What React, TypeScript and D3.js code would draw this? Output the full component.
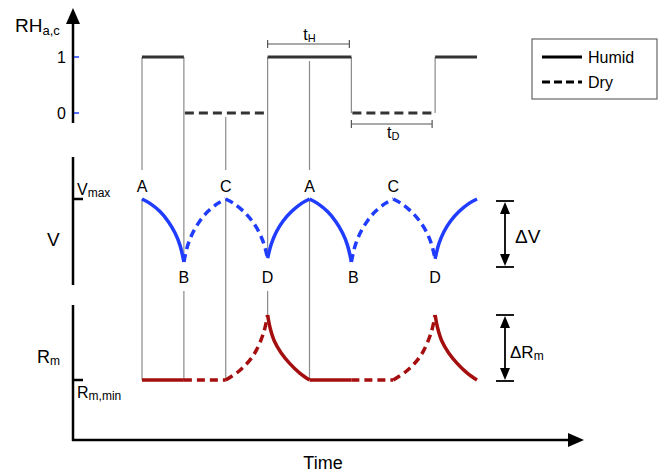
import * as d3 from 'd3';

// phase of each unit time interval (A-B, B-C, C-D, D-A, ...)
const phases = ['Humid', 'Dry', 'Dry', 'Humid', 'Humid', 'Dry', 'Dry', 'Humid'];
const pointLabels = ['A', 'B', 'C', 'D', 'A', 'B', 'C', 'D'];

// relative humidity steps
const rhTimes = [0, 1, 3, 5, 7, 8];
const rhValues = [1, 0, 1, 0, 1];

// V (normalised 0 = Vmin, 1 = Vmax)
const vTimes = [
  0, 0.19, 0.43, 0.63, 0.79, 0.91, 1,
  1.09, 1.21, 1.37, 1.57, 1.81, 2,
  2.19, 2.43, 2.63, 2.79, 2.91, 3,
  3.09, 3.21, 3.37, 3.57, 3.81, 4,
  4.19, 4.43, 4.63, 4.79, 4.91, 5,
  5.09, 5.21, 5.37, 5.57, 5.81, 6,
  6.19, 6.43, 6.63, 6.79, 6.91, 7,
  7.09, 7.21, 7.37, 7.57, 7.81, 8,
];
const vValues = [
  1, 0.93, 0.8, 0.64, 0.46, 0.26, 0,
  0.26, 0.46, 0.64, 0.8, 0.93, 1,
  0.93, 0.8, 0.65, 0.48, 0.29, 0.06,
  0.29, 0.48, 0.65, 0.8, 0.93, 1,
  0.93, 0.8, 0.64, 0.46, 0.26, 0,
  0.26, 0.46, 0.64, 0.8, 0.93, 1,
  0.93, 0.8, 0.65, 0.48, 0.29, 0.05,
  0.29, 0.48, 0.65, 0.8, 0.93, 1,
];

// Rm (normalised 0 = Rm,min, 1 = peak)
const rmTimes = [
  0, 1, 2, 2.34, 2.66, 2.9, 3,
  3.06, 3.16, 3.32, 3.52, 3.76, 4,
  5, 6, 6.34, 6.66, 6.9, 7,
  7.06, 7.16, 7.32, 7.52, 7.76, 8,
];
const rmValues = [
  0, 0, 0, 0.15, 0.38, 0.72, 1,
  0.8, 0.6, 0.42, 0.26, 0.11, 0,
  0, 0, 0.15, 0.38, 0.72, 1,
  0.8, 0.6, 0.42, 0.26, 0.11, 0,
];

const FONT = 'Liberation Sans, Arial, Helvetica, sans-serif';
const BLUE = '#1f3cff';
const RED = '#a50e0e';
const GRAY = '#8a8a8a';

export default function App() {
  const x = d3.scaleLinear().domain([0, 8]).range([142, 477]);
  const yRH = d3.scaleLinear().domain([0, 1]).range([113, 57]);
  const yV = d3.scaleLinear().domain([0, 1]).range([262, 199]);
  const yR = d3.scaleLinear().domain([0, 1]).range([380, 315]);

  const vPts: [number, number][] = vTimes.map((t, i) => [t, vValues[i]]);
  const rPts: [number, number][] = rmTimes.map((t, i) => [t, rmValues[i]]);

  const vLine = d3
    .line<[number, number]>()
    .x((d) => x(d[0]))
    .y((d) => yV(d[1]))
    .curve(d3.curveCatmullRom.alpha(0.5));
  const rLine = d3
    .line<[number, number]>()
    .x((d) => x(d[0]))
    .y((d) => yR(d[1]))
    .curve(d3.curveCatmullRom.alpha(0.5));

  const seg = (pts: [number, number][], i: number) =>
    pts.filter((p) => p[0] >= i && p[0] <= i + 1);

  const vAt = (t: number) => vValues[vTimes.indexOf(t)];
  const rAt = (t: number) => rmValues[rmTimes.indexOf(t)];
  const rhAt = (t: number) => {
    const k = d3.bisectRight(rhTimes, t) - 1;
    return rhValues[Math.min(k, rhValues.length - 1)];
  };

  // vertical guide lines for the first cycle
  const guides = d3.range(0, 5).map((t) => {
    const isEdge = rhTimes.includes(t);
    const top = isEdge ? yRH(1) : yRH(rhAt(t)) + 4;
    const above = pointLabels[t] === 'A' || pointLabels[t] === 'C';
    const yp = yV(vAt(t));
    const bottom = yR(rAt(t));
    return above
      ? [
          [top, yp - 29],
          [yp, bottom],
        ]
      : [
          [top, yp],
          [yV(0) + 29, bottom],
        ];
  });

  const dash = (p: string) => (p === 'Dry' ? '8,5' : undefined);

  return (
    <svg
      width={659}
      height={473}
      style={{ position: 'absolute', left: 0, top: 0, background: '#fff' }}
      fontFamily={FONT}
    >
      {/* guide lines */}
      <g stroke={GRAY} strokeWidth={1.2}>
        {guides.map((g, i) =>
          g.map((s, j) => (
            <line key={`${i}-${j}`} x1={x(i)} x2={x(i)} y1={s[0]} y2={s[1]} />
          )),
        )}
        {[5, 7].map((t) => (
          <line key={t} x1={x(t)} x2={x(t)} y1={yRH(1)} y2={yRH(0)} />
        ))}
      </g>

      {/* RH steps */}
      <g stroke="#333" strokeWidth={3}>
        {rhValues.map((v, i) => (
          <line
            key={i}
            x1={x(rhTimes[i]) + (i > 0 && v === 0 ? 1 : 0)}
            x2={x(rhTimes[i + 1]) - (v === 0 ? 3 : 0)}
            y1={yRH(v)}
            y2={yRH(v)}
            strokeDasharray={v === 0 ? '9,5' : undefined}
          />
        ))}
      </g>

      {/* t_H and t_D brackets */}
      <g stroke="#555" strokeWidth={1.2}>
        <line x1={x(3)} x2={x(5) - 2} y1={44} y2={44} />
        <line x1={x(3)} x2={x(3)} y1={40} y2={48} />
        <line x1={x(5) - 2} x2={x(5) - 2} y1={40} y2={48} />
        <line x1={x(5)} x2={x(7) - 3} y1={124} y2={124} />
        <line x1={x(5)} x2={x(5)} y1={120} y2={128} />
        <line x1={x(7) - 3} x2={x(7) - 3} y1={120} y2={128} />
      </g>
      <text x={(x(3) + x(5)) / 2} y={40} fontSize={16} textAnchor="middle">
        t<tspan fontSize={11} dy={2}>H</tspan>
      </text>
      <text x={(x(5) + x(7)) / 2} y={138} fontSize={16} textAnchor="middle">
        t<tspan fontSize={11} dy={2}>D</tspan>
      </text>

      {/* V curve */}
      <g fill="none" stroke={BLUE} strokeWidth={3.5}>
        {phases.map((p, i) => (
          <path key={i} d={vLine(seg(vPts, i)) ?? ''} strokeDasharray={dash(p)} />
        ))}
      </g>

      {/* Rm curve */}
      <g fill="none" stroke={RED} strokeWidth={3.5}>
        {phases.map((p, i) => (
          <path key={i} d={rLine(seg(rPts, i)) ?? ''} strokeDasharray={dash(p)} />
        ))}
      </g>

      {/* point labels */}
      <g fontSize={16} textAnchor="middle">
        {pointLabels.map((l, i) => {
          const above = l === 'A' || l === 'C';
          return (
            <text key={i} x={x(i) + (l === 'B' && i > 3 ? 2 : 0)} y={above ? 192 : 283}>
              {l}
            </text>
          );
        })}
      </g>

      {/* axes */}
      <g stroke="#000" strokeWidth={2.5} fill="none">
        <line x1={73} x2={73} y1={20} y2={123} />
        <line x1={73} x2={73} y1={157} y2={285} />
        <line x1={73} x2={83} y1={yV(1)} y2={yV(1)} />
        <line x1={73} x2={73} y1={305} y2={441} />
        <line x1={72} x2={572} y1={440} y2={440} />
        <line x1={73} x2={83} y1={yR(0)} y2={yR(0)} />
      </g>
      <polygon points="73,8 66,24 80,24" fill="#000" />
      <polygon points="584,440 568,433 568,447" fill="#000" />
      <g stroke={BLUE} strokeWidth={1.5}>
        <line x1={74} x2={79} y1={yRH(1)} y2={yRH(1)} />
        <line x1={74} x2={79} y1={yRH(0)} y2={yRH(0)} />
      </g>

      {/* axis labels */}
      <text x={15} y={32} fontSize={19}>
        RH<tspan fontSize={13} dy={3}>a,c</tspan>
      </text>
      <text x={66} y={yRH(1) + 6} fontSize={16} textAnchor="end">1</text>
      <text x={66} y={yRH(0) + 6} fontSize={16} textAnchor="end">0</text>
      <text x={47} y={246} fontSize={19}>V</text>
      <text x={77} y={195} fontSize={16}>
        V<tspan fontSize={12} dy={2}>max</tspan>
      </text>
      <text x={37} y={363} fontSize={18}>
        R<tspan fontSize={12} dy={2}>m</tspan>
      </text>
      <text x={77} y={398} fontSize={16}>
        R<tspan fontSize={12} dy={2}>m,min</tspan>
      </text>
      <text x={323} y={469} fontSize={18} textAnchor="middle">Time</text>

      {/* delta arrows */}
      <g stroke="#000" strokeWidth={1.8}>
        <line x1={496} x2={514} y1={201} y2={201} />
        <line x1={496} x2={514} y1={267} y2={267} />
        <line x1={505} x2={505} y1={210} y2={258} />
        <line x1={496} x2={514} y1={315} y2={315} />
        <line x1={496} x2={514} y1={381} y2={381} />
        <line x1={505} x2={505} y1={324} y2={372} />
      </g>
      <g fill="#000">
        <polygon points="505,202 500,214 510,214" />
        <polygon points="505,266 500,254 510,254" />
        <polygon points="505,316 500,328 510,328" />
        <polygon points="505,380 500,368 510,368" />
      </g>
      <text x={515} y={243} fontSize={19}>ΔV</text>
      <text x={510} y={358} fontSize={17}>
        ΔR<tspan fontSize={12} dy={2}>m</tspan>
      </text>

      {/* legend */}
      <rect x={532} y={39} width={125} height={60} fill="#fff" stroke="#666" strokeWidth={1.2} />
      <line x1={542} x2={582} y1={57} y2={57} stroke="#000" strokeWidth={3} />
      <line x1={542} x2={582} y1={82} y2={82} stroke="#000" strokeWidth={3} strokeDasharray="8,4" />
      <text x={588} y={63} fontSize={16}>Humid</text>
      <text x={588} y={88} fontSize={16}>Dry</text>
    </svg>
  );
}
